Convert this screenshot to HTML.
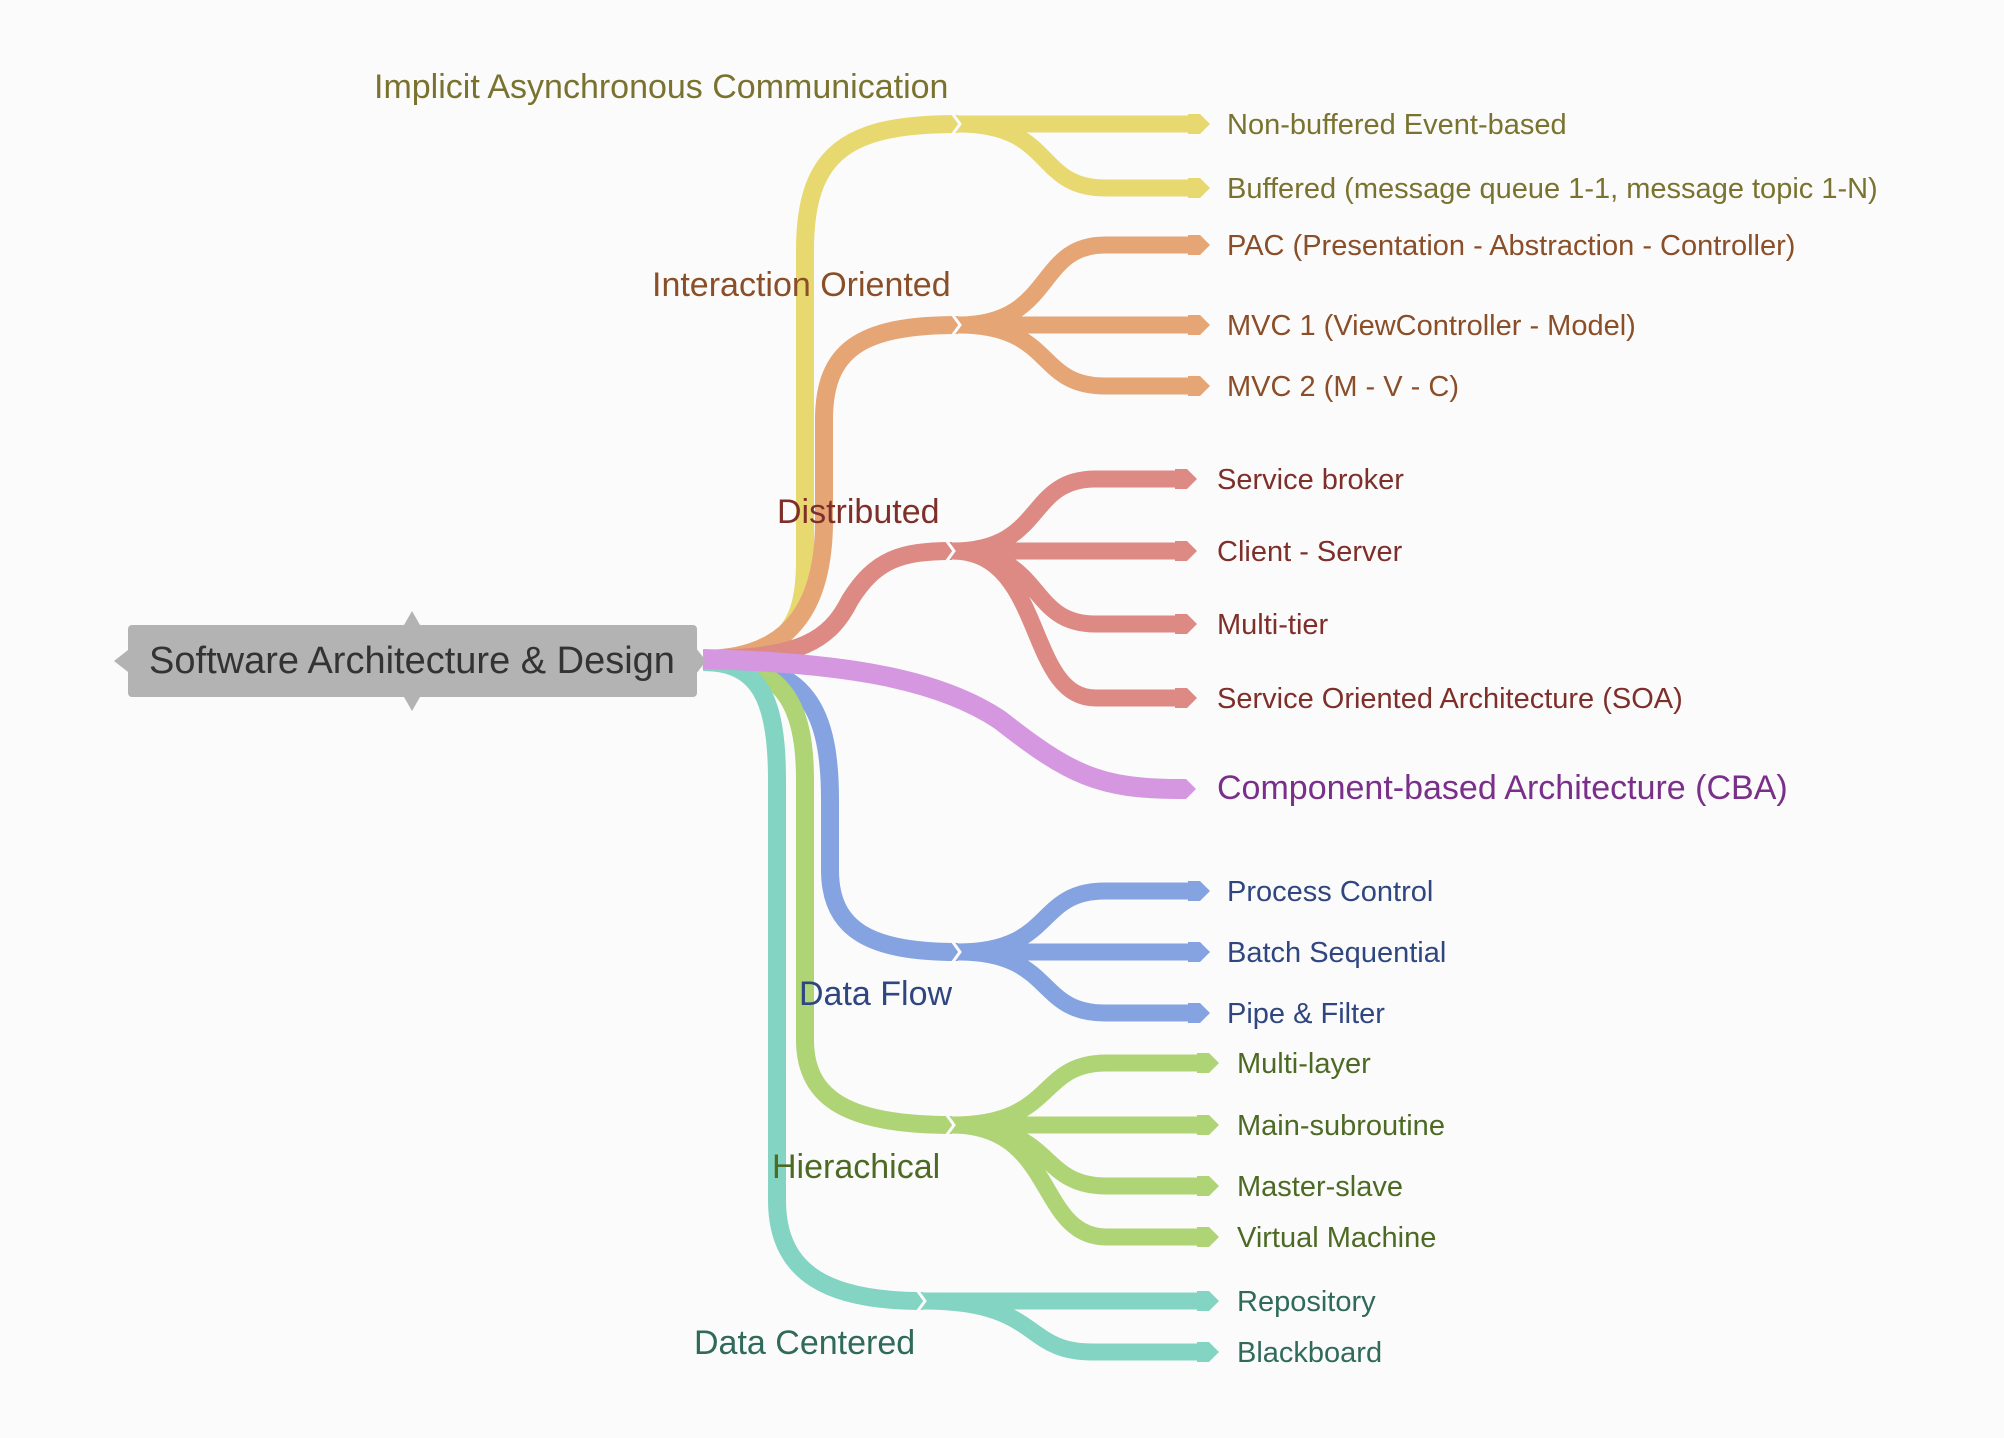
<!DOCTYPE html>
<html><head><meta charset="utf-8"><style>
html,body{margin:0;padding:0;background:#fbfbfb;}
svg{display:block}
text{font-family:"Liberation Sans",Arial,sans-serif;}
</style></head><body>
<svg id="s" width="2004" height="1438" viewBox="0 0 2004 1438" xmlns="http://www.w3.org/2000/svg">
<rect width="2004" height="1438" fill="#fbfbfb"/>
<g id="g" fill="none" stroke-linecap="butt"></g>
<!-- root -->
<polygon points="412,611 420,625 404,625" fill="#b3b3b3"/>
<polygon points="412,711 420,697 404,697" fill="#b3b3b3"/>
<polygon points="114,661 128,650 128,672" fill="#b3b3b3"/>
<polygon points="696,648 706,661 696,674" fill="#b3b3b3"/>
<rect x="128" y="625" width="569" height="72" rx="4" fill="#b3b3b3"/>
<text x="412" y="673" font-size="38" fill="#333" text-anchor="middle">Software Architecture &amp; Design</text>
<!-- branch labels -->
<g font-size="34">
<text x="374" y="98" fill="#7a7330">Implicit Asynchronous Communication</text>
<text x="652" y="296" fill="#8a4e28">Interaction Oriented</text>
<text x="777" y="523" fill="#7f2f2a">Distributed</text>
<text x="799" y="1005" fill="#2f4680">Data Flow</text>
<text x="772" y="1178" fill="#4d6a25">Hierachical</text>
<text x="694" y="1354" fill="#2f6a5a">Data Centered</text>
</g>
<g font-size="29">
<text x="1227" y="134" fill="#7a7330">Non-buffered Event-based</text>
<text x="1227" y="198" fill="#7a7330">Buffered (message queue 1-1, message topic 1-N)</text>
<text x="1227" y="255" fill="#8a4e28">PAC (Presentation - Abstraction - Controller)</text>
<text x="1227" y="335" fill="#8a4e28">MVC 1 (ViewController - Model)</text>
<text x="1227" y="396" fill="#8a4e28">MVC 2 (M - V - C)</text>
<text x="1217" y="489" fill="#7f2f2a">Service broker</text>
<text x="1217" y="561" fill="#7f2f2a">Client - Server</text>
<text x="1217" y="634" fill="#7f2f2a">Multi-tier</text>
<text x="1217" y="708" fill="#7f2f2a">Service Oriented Architecture (SOA)</text>
<text x="1227" y="901" fill="#2f4680">Process Control</text>
<text x="1227" y="962" fill="#2f4680">Batch Sequential</text>
<text x="1227" y="1023" fill="#2f4680">Pipe &amp; Filter</text>
<text x="1237" y="1073" fill="#4d6a25">Multi-layer</text>
<text x="1237" y="1135" fill="#4d6a25">Main-subroutine</text>
<text x="1237" y="1196" fill="#4d6a25">Master-slave</text>
<text x="1237" y="1247" fill="#4d6a25">Virtual Machine</text>
<text x="1237" y="1311" fill="#2f6a5a">Repository</text>
<text x="1237" y="1362" fill="#2f6a5a">Blackboard</text>
</g>
<text x="1217" y="799" font-size="34" fill="#7a2f8a">Component-based Architecture (CBA)</text>
</svg>
<script>
var g=document.getElementById('g'),NS='http://www.w3.org/2000/svg';
function p(d,c,w){var e=document.createElementNS(NS,'path');e.setAttribute('d',d);e.setAttribute('stroke',c);e.setAttribute('stroke-width',w);g.appendChild(e);}
function arrow(E,y,c){var e=document.createElementNS(NS,'polygon');e.setAttribute('points',(E-16)+','+(y-10)+' '+(E-4)+','+(y-10)+' '+(E+6)+','+y+' '+(E-4)+','+(y+10)+' '+(E-16)+','+(y+10));e.setAttribute('fill',c);g.appendChild(e);}
function node(x,y,c){var e=document.createElementNS(NS,'polyline');e.setAttribute('points',(x-6)+','+(y-11)+' '+(x+2)+','+y+' '+(x-6)+','+(y+11));e.setAttribute('stroke','#fbfbfb');e.setAttribute('stroke-width','3');e.setAttribute('fill','none');g.appendChild(e);}
var br=[
 {c:'#e8d870',d:'M703,659 C790,659 805,620 805,560 L805,250 C805,150 850,124 958,124',nx:958,ny:124,E:1208,L:[124,188]},
 {c:'#e5a574',d:'M703,659 C795,659 824,600 824,520 L824,420 C824,350 860,325 958,325',nx:958,ny:325,E:1208,L:[245,325,386]},
 {c:'#dd8a84',d:'M703,659 C800,659 830,640 850,600 C875,560 900,551 952,551',nx:952,ny:551,E:1195,L:[479,551,624,698]},
 {c:'#85a3e0',d:'M703,662 C800,662 830,700 830,800 L830,870 C830,930 870,952 958,952',nx:958,ny:952,E:1208,L:[891,952,1013]},
 {c:'#aed476',d:'M703,662 C780,662 805,700 805,780 L805,1040 C805,1100 850,1125 952,1125',nx:952,ny:1125,E:1217,L:[1063,1125,1186,1237]},
 {c:'#83d4c2',d:'M703,662 C760,662 777,700 777,780 L777,1200 C777,1275 830,1301 923,1301',nx:923,ny:1301,E:1217,L:[1301,1352]}
];
br.forEach(function(b){
 p(b.d,b.c,18);
 b.L.forEach(function(y){
  var x0=b.nx,e=b.E-16,m=(x0+e)/2;
  p('M'+x0+','+b.ny+' C'+(m-20)+','+b.ny+' '+(m-40)+','+y+' '+(m+30)+','+y+' L'+e+','+y,b.c,17);
  arrow(b.E-4,y,b.c);
 });
 node(b.nx,b.ny,b.c);
});
p('M703,659 C850,663 940,680 1000,720 C1070,775 1100,789 1180,789','#d598e0',20);
arrow(1190,789,'#d598e0');
</script>
</body></html>
